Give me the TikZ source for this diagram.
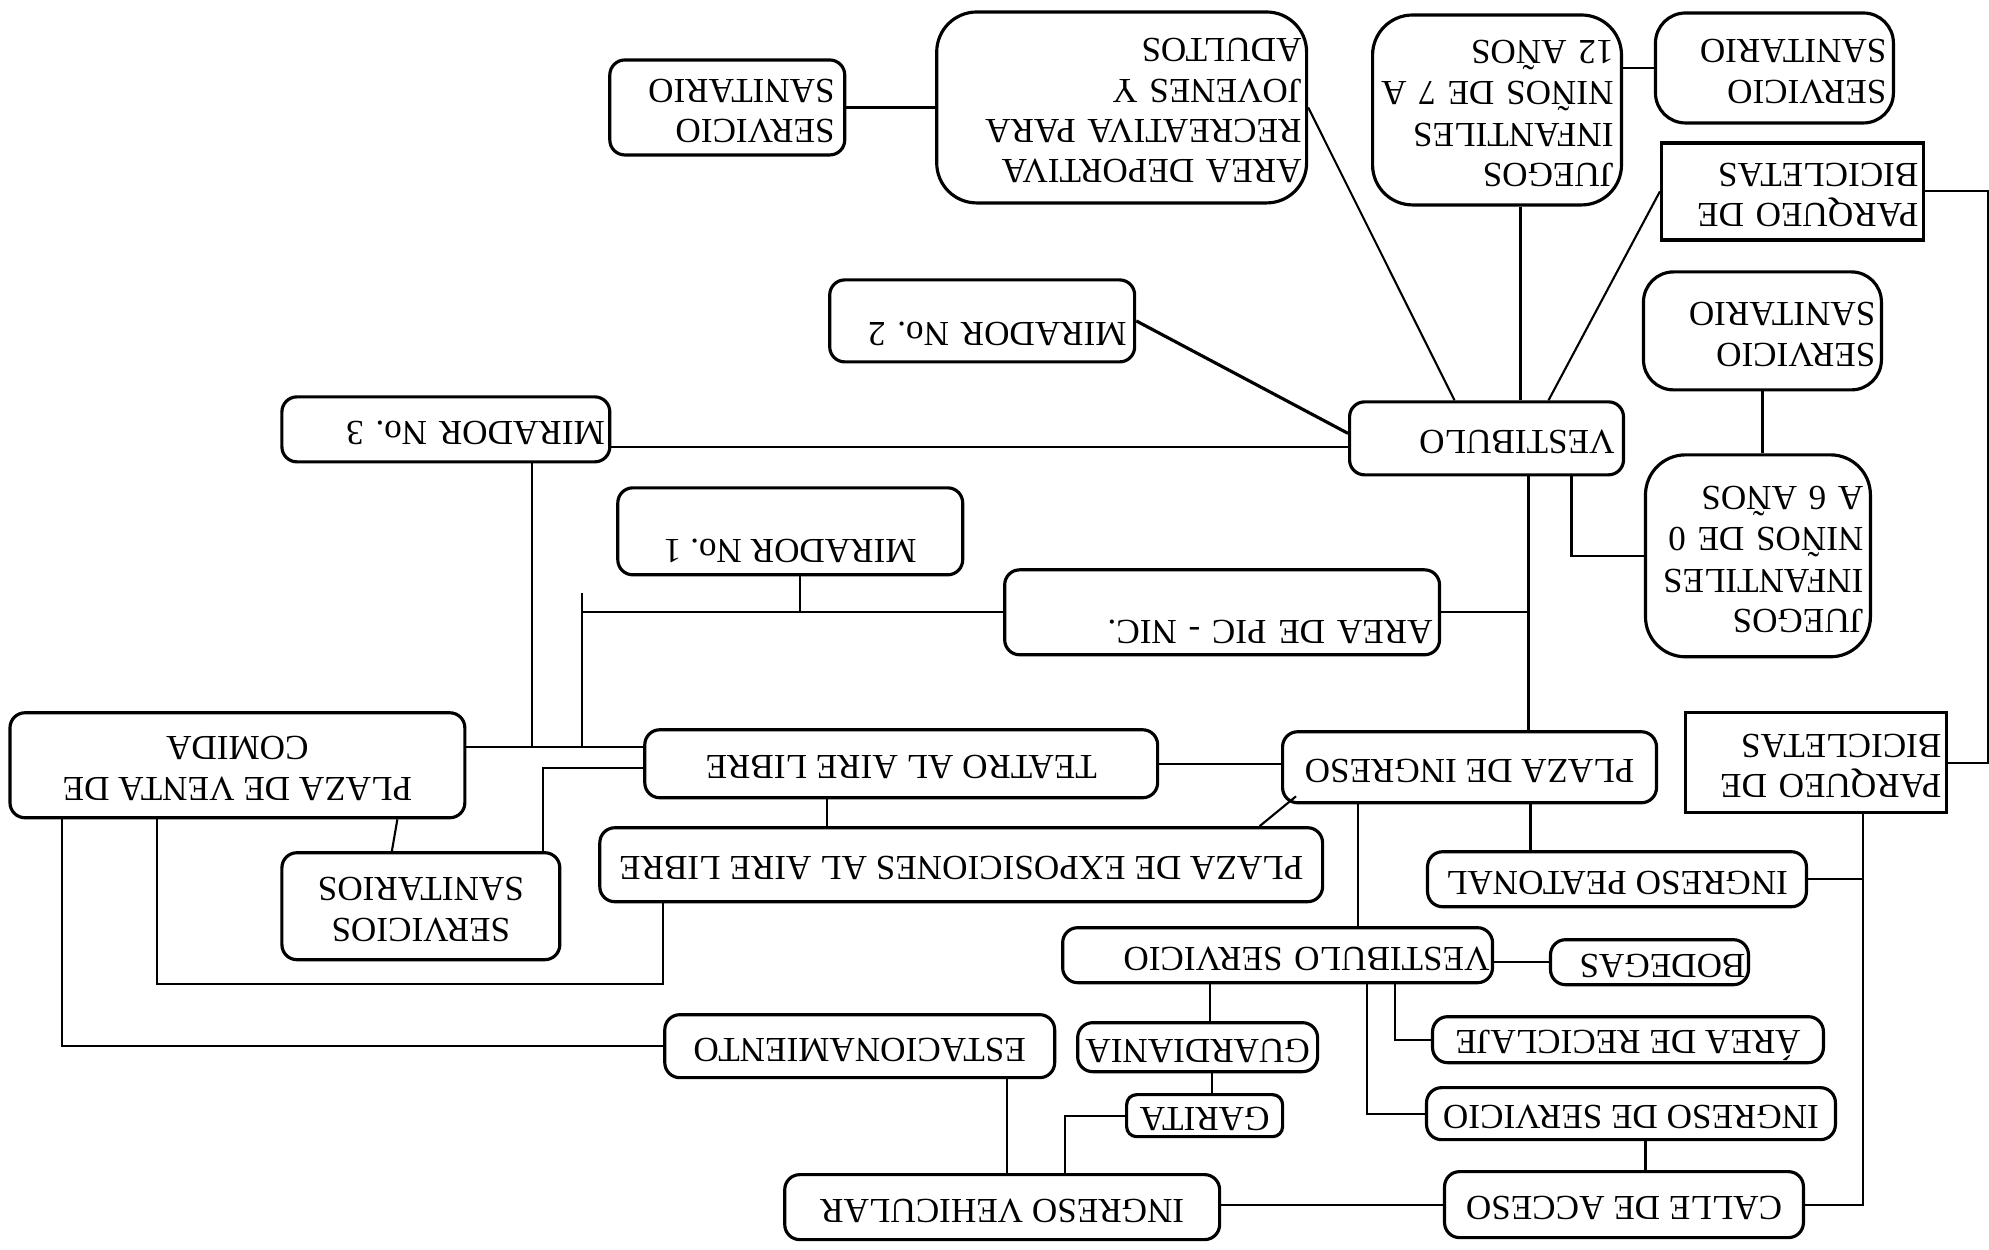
\documentclass[tikz,border=0pt]{standalone}
\usepackage{fontspec}
\setmainfont{Liberation Serif}
\usepackage{graphicx}
\usepackage{tikz}
\usetikzlibrary{positioning,calc}
\frenchspacing
\newcommand{\flipl}[1]{\rotatebox{180}{\begin{tabular}{@{}l@{}}#1\end{tabular}}}
\newcommand{\flipc}[1]{\rotatebox{180}{\begin{tabular}{@{}c@{}}#1\end{tabular}}}
\newcommand{\lowr}[2]{\raisebox{-#1}[\height][\depth]{#2}}
\tikzset{
  box/.style   ={rectangle, rounded corners=1.5mm, draw=black, line width=0.9pt,
                 inner sep=0pt, font=\fontsize{10}{11.5}\selectfont},
  bigbox/.style={box, rounded corners=4mm},
  midbox/.style={box, rounded corners=3mm},
  sqbox/.style ={box, rounded corners=0pt},
  rtxt/.style  ={align=right, text width=#1},
  ln/.style    ={draw=black, line width=0.6pt}
}
\begin{document}
\begin{tikzpicture}
\fill[white] (0,0) rectangle (19.89,-12.5);

% upper part
\node[box, minimum width=2.35cm, minimum height=0.95cm, rtxt=2.15cm] (ssa) at (7.275,-1.075) {\flipl{SERVICIO\\SANITARIO}};
\node[bigbox, minimum width=3.7cm, minimum height=1.91cm, rtxt=3.6cm] (adep) at (11.22,-1.075)
  {\flipl{AREA DEPORTIVA\\RECREATIVA PARA\\JOVENES Y\\ADULTOS}};
\node[box, minimum width=3.05cm, minimum height=0.82cm, rtxt=2.89cm] (mir2) at (9.825,-3.21) {\lowr{1mm}{\flipl{MIRADOR No. 2}}};
\node[bigbox, minimum width=2.49cm, minimum height=1.9cm, rtxt=2.33cm] (j712) at (14.975,-1.1)
  {\flipl{JUEGOS\\INFANTILES\\NIÑOS DE 7 A\\12 AÑOS}};
\node[midbox, minimum width=2.38cm, minimum height=1.1cm, rtxt=2.24cm] (ssb) at (17.75,-0.68) {\flipl{SERVICIO\\SANITARIO}};
\node[sqbox, minimum width=2.62cm, minimum height=0.97cm, rtxt=2.52cm] (pq1) at (17.93,-1.915) {\flipl{PARQUEO DE\\BICICLETAS}};
\node[midbox, minimum width=2.38cm, minimum height=1.18cm, rtxt=2.26cm] (ssc) at (17.63,-3.31) {\flipl{SERVICIO\\SANITARIO}};
\node[bigbox, minimum width=2.25cm, minimum height=2.02cm, rtxt=2.11cm] (j06) at (17.585,-5.56)
  {\flipl{JUEGOS\\INFANTILES\\NIÑOS DE 0\\A 6 AÑOS}};
\node[box, minimum width=2.74cm, minimum height=0.73cm, rtxt=2.56cm] (vest) at (14.87,-4.385) {\flipl{VESTIBULO}};
\node[box, minimum width=3.28cm, minimum height=0.65cm, rtxt=3.18cm] (mir3) at (4.46,-4.295) {\flipl{MIRADOR No. 3}};
\node[box, minimum width=3.45cm, minimum height=0.87cm] (mir1) at (7.905,-5.315) {\lowr{1.6mm}{\flipc{MIRADOR No. 1}}};
\node[box, minimum width=4.35cm, minimum height=0.85cm, rtxt=4.21cm] (pic) at (12.225,-6.125) {\lowr{1.6mm}{\flipl{AREA DE PIC - NIC.}}};

% middle part
\node[box, minimum width=4.55cm, minimum height=1.05cm] (venta) at (2.375,-7.655) {\flipc{PLAZA DE VENTA DE\\COMIDA}};
\node[box, minimum width=5.13cm, minimum height=0.68cm] (teatro) at (9.015,-7.64) {\flipc{TEATRO AL AIRE LIBRE}};
\node[box, minimum width=2.78cm, minimum height=1.07cm] (ss4) at (4.21,-9.065) {\flipc{SERVICIOS\\SANITARIOS}};
\node[box, minimum width=7.23cm, minimum height=0.74cm] (expo) at (9.615,-8.65) {\flipc{PLAZA DE EXPOSICIONES AL AIRE LIBRE}};
\node[box, minimum width=3.74cm, minimum height=0.71cm] (ingreso) at (14.7,-7.675) {\flipc{PLAZA DE INGRESO}};
\node[sqbox, minimum width=2.61cm, minimum height=1cm, rtxt=2.51cm] (pq2) at (18.165,-7.63) {\flipl{PARQUEO DE\\BICICLETAS}};

% lower part
\node[box, minimum width=3.79cm, minimum height=0.55cm] (peat) at (16.175,-8.795) {\flipc{INGRESO PEATONAL}};
\node[box, minimum width=4.3cm, minimum height=0.55cm, rtxt=4.24cm] (vserv) at (12.78,-9.555) {\flipl{VESTIBULO SERVICIO}};
\node[box, minimum width=1.98cm, minimum height=0.45cm, rtxt=1.92cm] (bod) at (16.5,-9.625) {\flipl{BODEGAS}};
\node[box, minimum width=3.91cm, minimum height=0.46cm] (recic) at (16.285,-10.4) {\flipc{ÁREA DE RECICLAJE}};
\node[box, minimum width=4.09cm, minimum height=0.52cm] (iserv) at (16.315,-11.14) {\flipc{INGRESO DE SERVICIO}};
\node[box, minimum width=3.59cm, minimum height=0.66cm] (calle) at (16.245,-12.05) {\flipc{CALLE DE ACCESO}};
\node[box, minimum width=4.35cm, minimum height=0.65cm] (vehic) at (10.025,-12.075) {\flipc{INGRESO VEHICULAR}};
\node[box, rounded corners=1mm, minimum width=1.56cm, minimum height=0.42cm] (garita) at (12.05,-11.16) {\flipc{GARITA}};
\node[box, minimum width=2.4cm, minimum height=0.49cm] (guard) at (11.98,-10.475) {\flipc{GUARDIANIA}};
\node[box, minimum width=3.9cm, minimum height=0.63cm] (estac) at (8.6,-10.465) {\flipc{ESTACIONAMIENTO}};

\coordinate (ja) at ([xshift=2.35mm]j712.south);
\coordinate (va) at ([xshift=8.5mm]vest.south);
\coordinate (vw) at ([yshift=-0.85mm]vest.west);
\coordinate (vtrunk) at ([xshift=4.2mm]vest.south);
\coordinate (m1) at ([xshift=1mm]mir1.south);
\coordinate (m3) at ([xshift=8.6mm]mir3.south);
\coordinate (vt) at ([yshift=1.85mm]venta.east);
\coordinate (tl) at (5.82,-7.47);
\coordinate (ts) at ([xshift=-7.45mm]teatro.south);
\coordinate (ia) at ([xshift=-11.2mm]ingreso.south);
\coordinate (ib) at ([xshift=6.1mm]ingreso.south);
\coordinate (rt) at ([xshift=4.75mm]pq2.south);
\coordinate (ga) at ([xshift=-6.8mm]vserv.south);
\coordinate (gb) at ([xshift=1.4mm]guard.south);
\coordinate (sa) at ([xshift=11.7mm]vserv.south);
\coordinate (sb) at ([xshift=8.9mm]vserv.south);
\coordinate (ca) at ([xshift=1.45mm]iserv.south);
\coordinate (ea) at ([xshift=0.45mm]vehic.north);
\coordinate (eb) at ([xshift=6.25mm]vehic.north);
\coordinate (ecorner) at (6.63,-9.84);

\draw[ln] (ssa.east) -- (ssa.east -| adep.west);
\draw[ln] (adep.east) -- ([xshift=-3.2mm]vest.north);
\draw[ln, line width=0.9pt] (mir2.east) -- ([yshift=0.5mm]vest.west);
\draw[ln] (ja) -- (ja |- vest.north);
\draw[ln] (ssb.west) -- (ssb.west -| j712.east);
\draw[ln] (pq1.west) -- ([xshift=6.2mm]vest.north);
\draw[ln] (pq1.east) -- ++(0.63,0) |- (pq2.east);
\draw[ln] (ssc.south) -- (ssc.south |- j06.north);
\draw[ln] (va) |- (j06.west);
\draw[ln] (vw) -- (vw -| mir3.east);
\draw[ln] (vtrunk) -- (vtrunk |- ingreso.north);
\draw[ln] (pic.east) -- (pic.east -| vtrunk);
\draw[ln] (m1) -- (m1 |- pic.west);
\draw[ln] (pic.west) -- (pic.west -| tl);
\draw[ln] (tl) -- ++(0,1.54);
\draw[ln] (vt) -- (vt -| teatro.west);
\draw[ln] (m3) -- (m3 |- vt);
\draw[ln] (teatro.east) -- (teatro.east -| ingreso.west);
\draw[ln] ([yshift=-0.4mm]teatro.west) -| ([xshift=12.2mm]ss4.north);
\draw[ln] (ts) -- (ts |- expo.north);
\draw[ln] ([xshift=-17.55mm]venta.south) |- (estac.west);
\draw[ln] ([xshift=-8.05mm]venta.south) |- (ecorner) -- (ecorner |- expo.south);
\draw[ln] ([xshift=16mm]venta.south) -- ([xshift=-2.9mm]ss4.north);
\draw[ln] ([xshift=29.85mm]expo.north) -- ([shift={(1.5mm,0.8mm)}]ingreso.south west);
\draw[ln] (ia) -- (ia |- vserv.north);
\draw[ln] (ib) -- (ib |- peat.north);
\draw[ln] (rt) |- (calle.east);
\draw[ln] (peat.east) -- (peat.east -| rt);
\draw[ln] (bod.west) -- (bod.west -| vserv.east);
\draw[ln] (ga) -- (ga |- guard.north);
\draw[ln] (sa) |- (recic.west);
\draw[ln] (sb) |- (iserv.west);
\draw[ln] (gb) -- (gb |- garita.north);
\draw[ln] (ca) -- (ca |- calle.north);
\draw[ln] (calle.west) -- (calle.west -| vehic.east);
\draw[ln] (ea) -- (ea |- estac.south);
\draw[ln] (eb) |- (garita.west);
\end{tikzpicture}
\end{document}
